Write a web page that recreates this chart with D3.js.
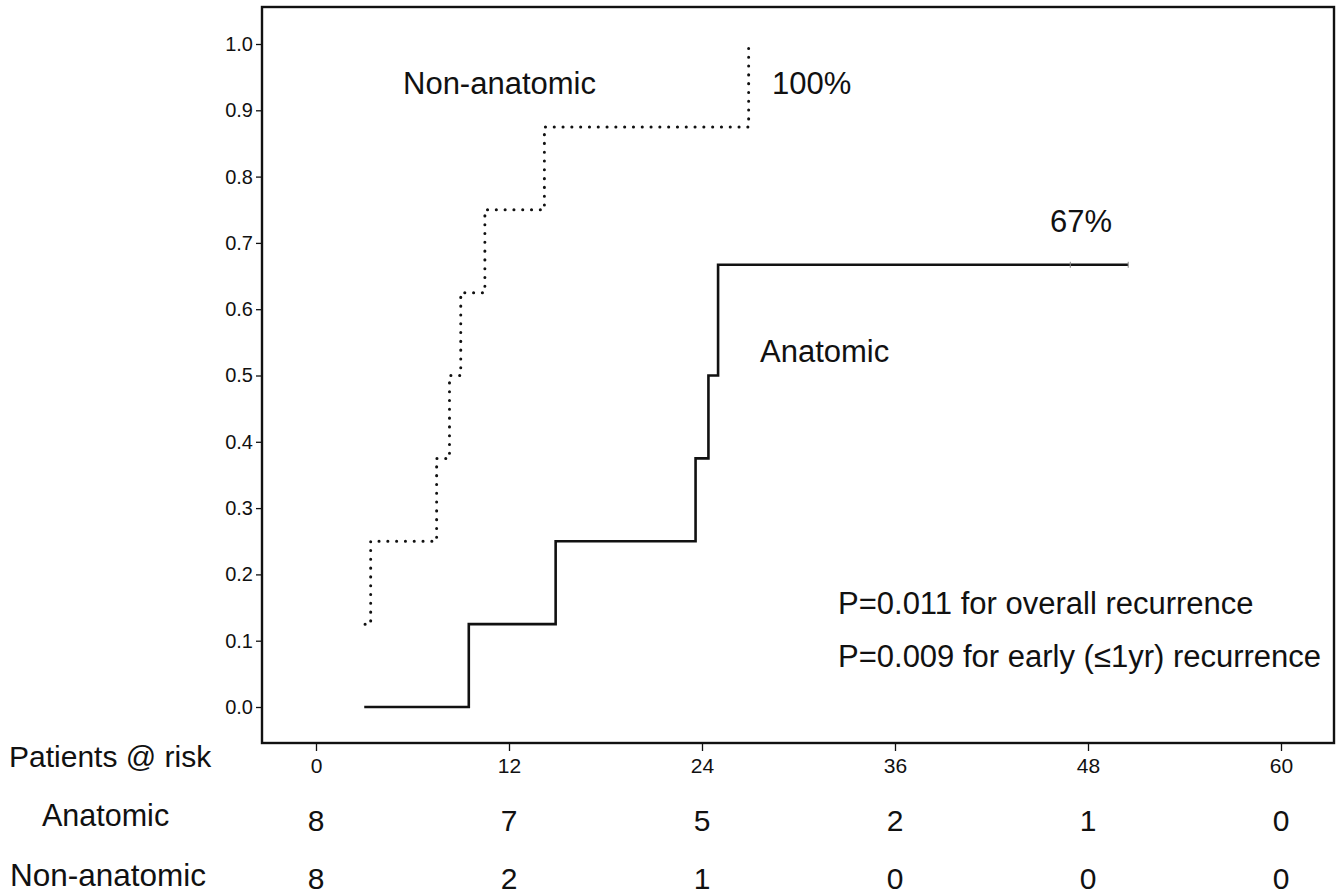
<!DOCTYPE html>
<html><head><meta charset="utf-8">
<script src="https://cdn.jsdelivr.net/npm/d3@7"></script>
<style>body{margin:0;background:#fff}svg{display:block}text{font-family:"Liberation Sans",Arial,sans-serif;fill:#111}</style>
</head><body>
<svg id="c" width="1344" height="895"></svg>
<script>
// Data
const xTicks = [0, 12, 24, 36, 48, 60];
const yTicks = [0, 0.1, 0.2, 0.3, 0.4, 0.5, 0.6, 0.7, 0.8, 0.9, 1.0];
// Anatomic: step times and cumulative recurrence
const anatomicTimes = [3, 9.5, 14.9, 23.6, 24.4, 25.0, 50.5];
const anatomicValues = [0, 0.125, 0.25, 0.375, 0.5, 0.667, 0.667];
const anatomicCensored = [46.9, 50.5];
// Non-anatomic
const nonAnatomicTimes = [3.05, 3.4, 7.5, 8.3, 9.0, 10.5, 14.2, 26.9];
const nonAnatomicValues = [0.125, 0.25, 0.375, 0.5, 0.625, 0.75, 0.875, 1.0];
const riskGroups = ["Anatomic", "Non-anatomic"];
const riskAnatomic = [8, 7, 5, 2, 1, 0];
const riskNonAnatomic = [8, 2, 1, 0, 0, 0];

const svg = d3.select("#c");
const x = d3.scaleLinear().domain([0, 60]).range([316, 1281]);
const y = d3.scaleLinear().domain([0, 1]).range([707, 44]);
const frame = {l: 262, t: 7, r: 1334, b: 743};

// frame
svg.append("rect").attr("x", frame.l).attr("y", frame.t)
  .attr("width", frame.r - frame.l).attr("height", frame.b - frame.t)
  .attr("fill", "none").attr("stroke", "#111").attr("stroke-width", 2.4);

// y axis
const yAx = svg.append("g").attr("transform", `translate(${frame.l},0)`)
  .call(d3.axisLeft(y).tickValues(yTicks).tickFormat(d3.format(".1f")).tickSize(6).tickPadding(3));
yAx.select(".domain").remove();
yAx.selectAll("line").attr("stroke", "#111").attr("stroke-width", 1.3);
yAx.selectAll("text").style("font-size", "20px").attr("fill", "#222");

// x axis
const xAx = svg.append("g").attr("transform", `translate(0,${frame.b})`)
  .call(d3.axisBottom(x).tickValues(xTicks).tickSize(8).tickPadding(7));
xAx.select(".domain").remove();
xAx.selectAll("line").attr("stroke", "#111").attr("stroke-width", 1.3);
xAx.selectAll("text").style("font-size", "21px").attr("fill", "#222");

// step lines
function stepPath(times, values) {
  const pts = [];
  for (let i = 0; i < times.length; i++) {
    if (i > 0) pts.push([times[i], values[i - 1]]);
    pts.push([times[i], values[i]]);
  }
  return d3.line().x(d => x(d[0])).y(d => y(d[1]))(pts);
}
svg.append("path").attr("d", stepPath(anatomicTimes, anatomicValues))
  .attr("fill", "none").attr("stroke", "#111").attr("stroke-width", 2.6);
svg.append("path").attr("d", stepPath(nonAnatomicTimes, nonAnatomicValues))
  .attr("fill", "none").attr("stroke", "#111").attr("stroke-width", 3)
  .attr("stroke-dasharray", "0.1,8.7").attr("stroke-linecap", "round");

// censor marks
svg.selectAll(".cens").data(anatomicCensored).enter().append("line")
  .attr("x1", d => x(d)).attr("x2", d => x(d))
  .attr("y1", y(0.667) - 3).attr("y2", y(0.667) + 3)
  .attr("stroke", "#888").attr("stroke-width", 1);

// annotations
const ann = [
  ["Non-anatomic", 403, 94],
  ["100%", 772, 94],
  ["67%", 1050, 232],
  ["Anatomic", 760, 362],
  ["P=0.011 for overall recurrence", 838, 614],
  ["P=0.009 for early (\u22641yr) recurrence", 838, 667]
];
svg.selectAll(".ann").data(ann).enter().append("text")
  .attr("x", d => d[1]).attr("y", d => d[2]).style("font-size", "31px").text(d => d[0]);

// risk table
svg.append("text").attr("x", 9).attr("y", 767).style("font-size", "30px").text("Patients @ risk");
svg.append("text").attr("x", 42).attr("y", 826).style("font-size", "30.5px").text(riskGroups[0]);
svg.append("text").attr("x", 10).attr("y", 886).style("font-size", "31.5px").text(riskGroups[1]);
svg.selectAll(".ra").data(riskAnatomic).enter().append("text")
  .attr("x", (d, i) => x(xTicks[i])).attr("y", 831).attr("text-anchor", "middle")
  .style("font-size", "30px").text(d => d);
svg.selectAll(".rn").data(riskNonAnatomic).enter().append("text")
  .attr("x", (d, i) => x(xTicks[i])).attr("y", 889).attr("text-anchor", "middle")
  .style("font-size", "30px").text(d => d);
</script>
</body></html>
